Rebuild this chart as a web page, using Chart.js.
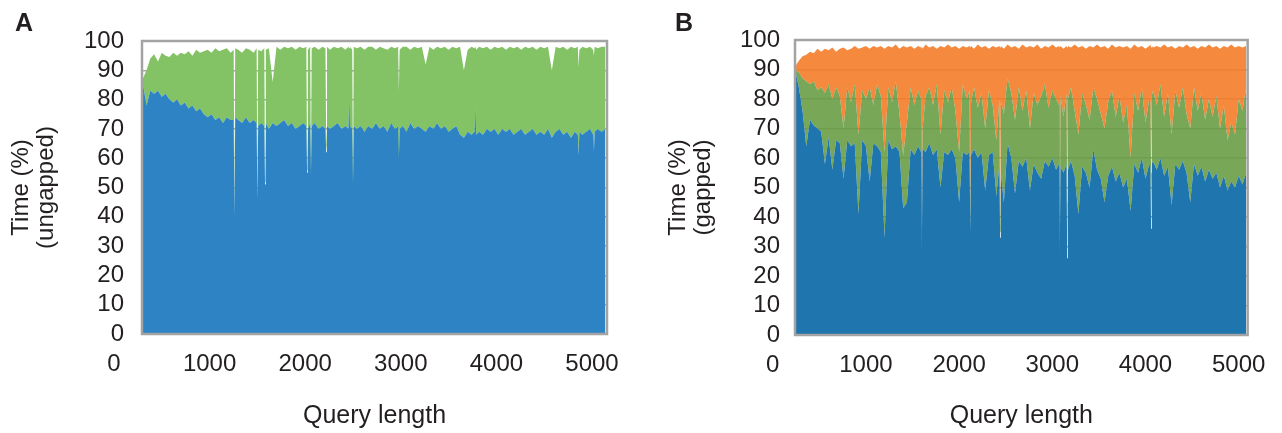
<!DOCTYPE html>
<html><head><meta charset="utf-8">
<script src="https://cdn.jsdelivr.net/npm/chart.js@4.4.1/dist/chart.umd.min.js"></script>
<style>
html,body{margin:0;padding:0;background:#fff;}
body{width:1282px;height:433px;position:relative;overflow:hidden;}
#wa{position:absolute;left:0;top:0;width:640px;height:433px;}
#wb{position:absolute;left:640px;top:0;width:642px;height:433px;}
canvas{display:block;}
</style></head><body>
<div id="wa"><canvas id="ca" width="640" height="433" style="width:640px;height:433px"></canvas></div>
<div id="wb"><canvas id="cb" width="642" height="433" style="width:642px;height:433px"></canvas></div>
<script>
// ---------- data ----------
const xTickValues = [0, 1000, 2000, 3000, 4000, 5000];
const yTickValues = [0, 10, 20, 30, 40, 50, 60, 70, 80, 90, 100];

// Panel A (ungapped): query lengths and cumulative tops of the two layers (%)
const lengthsA = [
  300,340,380,420,460,500,540,580,620,660,
  700,740,780,820,860,900,940,980,1020,1060,
  1100,1140,1180,1220,1252,1260,1268,1300,1340,1380,
  1420,1460,1492,1500,1508,1540,1572,1580,1588,1620,
  1660,1700,1740,1780,1820,1860,1900,1940,1980,2012,
  2020,2028,2052,2060,2068,2100,2140,2180,2212,2220,
  2228,2260,2300,2340,2380,2420,2452,2460,2468,2492,
  2500,2508,2540,2580,2620,2660,2700,2740,2780,2820,
  2860,2900,2940,2972,2980,2988,3020,3060,3100,3140,
  3180,3220,3260,3300,3340,3380,3420,3460,3500,3540,
  3580,3620,3660,3700,3740,3772,3780,3788,3820,3860,
  3900,3940,3980,4020,4060,4100,4140,4180,4220,4260,
  4300,4340,4380,4420,4460,4500,4540,4580,4620,4660,
  4700,4740,4780,4820,4852,4860,4868,4900,4940,4980,
  5012,5020,5028,5060,5100,5140
];
const ungappedBlue = [
  86,78,83,82,83,81,82,80,79,80,
  78,79,77,78,76,77,75,74,75,73,
  74,72,74,73,73,40,74,73,72,74,
  72,73,72,46,71,72,71,51,72,70,
  72,71,72,73,71,72,70,71,72,71,
  55,70,72,54,71,72,70,71,70,62,
  71,70,71,72,70,71,70,80,71,70,
  51,71,70,71,69,71,70,72,70,71,
  69,72,70,71,60,70,71,69,72,70,
  71,70,69,71,70,72,70,71,69,70,
  71,68,67,69,68,69,79,68,69,68,
  70,69,70,68,70,69,70,68,69,70,
  68,69,70,68,69,68,70,67,69,70,
  68,69,67,69,68,61,69,68,69,70,
  68,62,69,70,69,70
];
const ungappedTotal = [
  87,90,94,95.5,93,96,95,94.5,96,95,
  96,95.5,96.5,95,97,96,96.5,97,96,97.5,
  96.5,97,97.5,96,97,42,97.5,97,96,97.5,
  97,96,97.5,47,97,96.5,97.5,52,97,97.5,
  86,98,97,98,97.5,98,97,98,97.5,98,
  56,97,98,55,97.5,98,97,98,97.5,64,
  98,97,98,97.5,98,97,98,97.5,98,97,
  52,98,97.5,98,97,98,98,97,98,97.5,
  97,98,97.5,98,83,97,98,98,97,98,
  97.5,98,92,98,97,98,97.5,98,97,98,
  97.5,98,90,97,98,97.5,98,97,98,97.5,
  98,97,98,97.5,98,97,98,97.5,98,97,
  98,97.5,98,97,98,97.5,98,90,98,97.5,
  98,97,98,97.5,98,91,97,98,97.5,98,
  97,95,98,97.5,98,98
];

// Panel B (gapped): query lengths and cumulative tops of the three layers (%)
const lengthsB = [
  240,280,320,360,400,440,480,520,560,600,
  640,680,720,760,800,840,880,920,960,1000,
  1040,1080,1120,1160,1200,1240,1280,1320,1360,1400,
  1440,1480,1520,1560,1592,1600,1608,1640,1680,1720,
  1760,1800,1840,1880,1920,1960,2000,2040,2080,2112,
  2120,2128,2160,2200,2240,2280,2320,2360,2400,2432,
  2440,2448,2480,2520,2560,2600,2640,2680,2720,2760,
  2800,2840,2880,2920,2960,3000,3040,3072,3080,3088,
  3120,3152,3160,3168,3200,3240,3280,3320,3360,3400,
  3440,3480,3520,3560,3600,3640,3680,3720,3760,3800,
  3840,3880,3920,3960,4000,4040,4052,4060,4068,4080,
  4120,4160,4200,4240,4280,4320,4360,4400,4440,4480,
  4520,4560,4600,4640,4680,4720,4760,4800,4840,4880,
  4920,4960,5000,5040,5080
];
const gappedBlue = [
  90,84,76,64,73,71,70,69,58,67,
  56,66,65,53,66,64,65,41,66,64,
  52,65,64,62,33,66,63,64,62,43,
  45,63,61,64,62,28,63,62,65,61,
  63,50,62,61,63,60,45,62,61,62,
  35,61,63,60,62,49,61,62,47,58,
  33,55,45,65,60,48,59,57,60,49,
  58,55,53,59,57,60,56,58,28,57,
  55,58,26,56,59,54,41,57,55,50,
  63,56,53,45,54,57,52,55,50,53,
  42,58,55,60,53,58,57,36,58,59,
  56,60,54,57,44,58,56,59,55,45,
  58,54,57,52,56,53,55,50,54,49,
  52,50,54,51,55
];
const gappedGreen = [
  90,89,87,86,85,86,83,84,82,85,
  80,84,81,70,84,79,85,68,83,80,
  84,78,85,81,62,84,79,86,75,61,
  72,84,78,83,80,28,70,81,84,78,
  85,68,83,79,84,76,62,85,80,83,
  40,79,84,77,82,70,83,78,66,80,
  35,79,75,87,82,73,84,76,83,70,
  82,78,81,85,77,83,80,78,30,81,
  74,82,45,80,84,76,68,82,78,73,
  84,80,75,70,79,83,74,81,72,78,
  60,82,76,84,72,80,79,55,81,83,
  78,85,74,82,68,83,77,84,75,70,
  84,76,82,73,80,74,81,70,78,66,
  72,68,80,76,84
];
const gappedOrange = [
  91,93,94.5,95,96,95.5,97,96,97,96.5,
  97.5,96,97,97.5,96.5,97,98,97,97.5,98,
  97,98,97.5,98,97,98,97.5,98.5,97,98,
  97.5,98,97,98,97.5,98,97,98.5,97.5,98,
  97,98,97.5,98.5,97.5,98,97,98,97.5,98,
  97.5,98,97,98.5,97.5,98,97,98,97.5,98,
  97.5,98,97,98.5,97.5,98,97,98.5,97.5,98,
  97.5,98.5,97,98,97.5,98.5,97.5,98,97.5,98,
  97,98,97.5,98,97.5,98.5,97.5,98,97,98,
  97.5,98.5,97.5,98,97,98.5,97.5,98,97.5,98,
  97,98.5,97.5,98,97,98,98.5,97.5,98,97.5,
  98,97.5,98.5,97.5,98,97,98,97.5,98.5,97.5,
  98,97,98,97.5,98.5,97.5,98,97,98,97.5,
  98.5,97.5,98,97.5,98
];

// ---------- drawing ----------
const FONT = '"Liberation Sans", Arial, Helvetica, sans-serif';
const TEXT = '#231f20';
Chart.defaults.font.family = FONT;

const framePlugin = {
  id: 'panelFrame',
  afterDatasetsDraw(chart, args, opts) {
    const {ctx, chartArea: a} = chart;
    ctx.save();
    ctx.strokeStyle = opts.color;
    ctx.lineWidth = opts.width;
    ctx.strokeRect(a.left, a.top, a.right - a.left, a.bottom - a.top);
    ctx.restore();
  }
};
const labelPlugin = {
  id: 'panelLabel',
  afterDraw(chart, args, opts) {
    const ctx = chart.ctx;
    ctx.save();
    ctx.font = 'bold 25px ' + FONT;
    ctx.fillStyle = TEXT;
    ctx.textBaseline = 'alphabetic';
    ctx.fillText(opts.text, opts.x, opts.y);
    ctx.restore();
  }
};

function buildPanel(canvasId, p) {
  return new Chart(document.getElementById(canvasId), {
    type: 'line',
    data: {
      datasets: p.series.map(s => ({
        label: s.label,
        data: p.lengths.map((x, i) => ({x: x, y: s.values[i]})),
        backgroundColor: s.color,
        borderWidth: 0,
        pointRadius: 0,
        tension: 0,
        fill: s.fill
      }))
    },
    options: {
      responsive: false,
      animation: false,
      events: [],
      layout: {padding: {left: 0, top: p.top, right: p.right, bottom: 0}},
      plugins: {
        legend: {display: false},
        tooltip: {enabled: false},
        panelFrame: {color: '#a3a3a3', width: 2.5},
        panelLabel: {text: p.label, x: p.labelX, y: 31}
      },
      scales: {
        x: {
          type: 'linear',
          min: p.xMin,
          max: p.xMax,
          afterBuildTicks: s => { s.ticks = xTickValues.map(v => ({value: v})); },
          afterFit: s => { s.height = p.xAxisHeight; },
          ticks: {autoSkip: false, maxRotation: 0, padding: 16, color: TEXT,
                  font: {size: 24}, callback: v => String(v)},
          grid: {display: false, drawTicks: false},
          border: {display: false},
          title: {display: true, text: 'Query length', color: TEXT,
                  font: {size: 25}, padding: {top: 0, bottom: 2}}
        },
        y: {
          min: 0,
          max: 100,
          afterBuildTicks: s => { s.ticks = yTickValues.map(v => ({value: v})); },
          afterFit: s => { s.width = p.yAxisWidth; },
          ticks: {autoSkip: false, padding: p.yTickPad, color: TEXT, font: {size: 24}},
          grid: {color: p.gridColor, lineWidth: 1.5, drawTicks: false},
          border: {display: false},
          title: {display: true, text: p.yTitle, color: TEXT,
                  font: {size: 24, lineHeight: 1.05}, padding: {top: p.yTitlePad, bottom: 0}}
        }
      }
    },
    plugins: [framePlugin, labelPlugin]
  });
}

buildPanel('ca', {
  label: 'A', labelX: 15,
  lengths: lengthsA,
  series: [
    {label: 'ungapped part 1', values: ungappedBlue, color: '#2e83c5', fill: 'origin'},
    {label: 'ungapped part 2', values: ungappedTotal, color: '#83c365', fill: '-1'}
  ],
  xMin: 293, xMax: 5157,
  top: 41, right: 33, xAxisHeight: 99, yAxisWidth: 142, yTickPad: 18,
  yTitle: ['Time (%)', '(ungapped)'], yTitlePad: 9, gridColor: '#a6a6a6'
});

buildPanel('cb', {
  label: 'B', labelX: 35,
  lengths: lengthsB,
  series: [
    {label: 'gapped part 1', values: gappedBlue, color: '#1f75ae', fill: 'origin'},
    {label: 'gapped part 2', values: gappedGreen, color: 'rgba(105,158,69,0.9)', fill: '-1'},
    {label: 'gapped part 3', values: gappedOrange, color: 'rgba(244,124,41,0.9)', fill: '-1'}
  ],
  xMin: 239, xMax: 5096,
  top: 40, right: 30, xAxisHeight: 98, yAxisWidth: 155, yTickPad: 15,
  yTitle: ['Time (%)', '(gapped)'], yTitlePad: 26, gridColor: '#a0a0a0'
});
</script>
</body></html>
